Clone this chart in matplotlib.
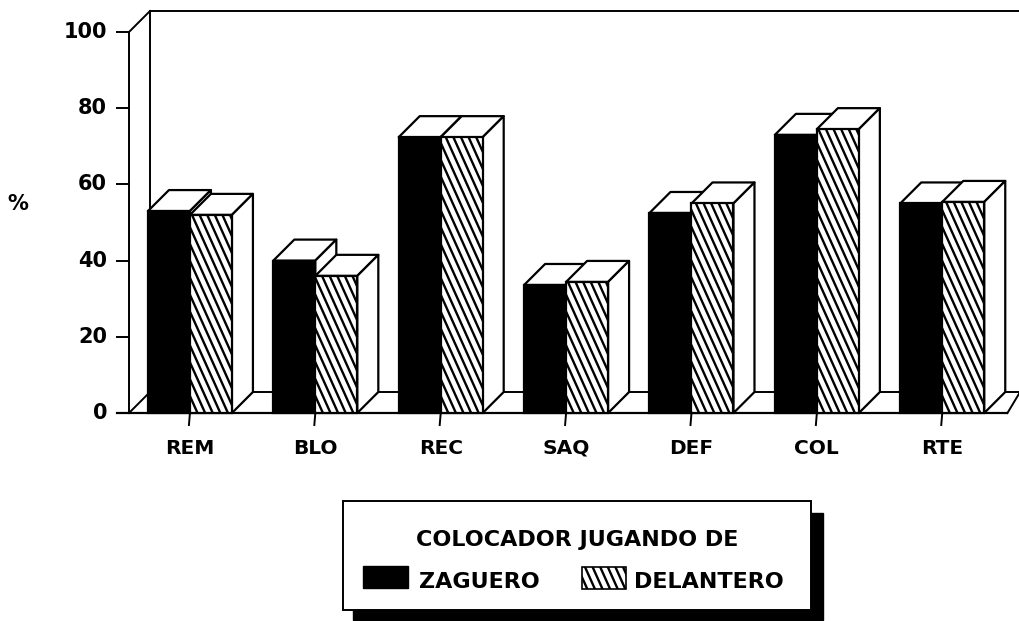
import numpy as np
import matplotlib
matplotlib.use("Agg")
import matplotlib.pyplot as plt
from matplotlib.patches import Polygon, Rectangle

categorias = ["REM", "BLO", "REC", "SAQ", "DEF", "COL", "RTE"]
zaguero = [53, 40, 72.4, 33.6, 52.5, 73, 55]
delantero = [52, 36, 72.4, 34.4, 55, 74.5, 55.4]
y_ticks = [0, 20, 40, 60, 80, 100]

W, H = 1020, 621
FONT = "DejaVu Sans"

fig = plt.figure(figsize=(W / 100, H / 100), dpi=100, facecolor="white")
ax = fig.add_axes([129 / W, (H - 413) / H, (W - 129) / W, 381 / H])
ax.set_xlim(-0.486, 6.62)
ax.set_ylim(0, 100)
ax.axis("off")

px_x = 1 / 125.4        # unidades de x por pixel
px_y = 100 / 381        # unidades de y por pixel
dx = 21 * px_x          # profundidad 3D
dy = 21 * px_y
bar_w = 42 * px_x
lw = 1.6


def linea(xs, ys, **kw):
    ax.plot(xs, ys, color="black", lw=kw.pop("lw", 1.4), clip_on=False,
            solid_capstyle="projecting", **kw)


def rayado(axis, x0, x1, y0, y1, k, paso, zorder):
    # lineas inclinadas recortadas al rectangulo de la barra
    rect = Rectangle((x0, y0), x1 - x0, y1 - y0, transform=axis.transData)
    alto = y1 - y0
    desvio = abs(alto * k)
    for xs in np.arange(x0 - desvio, x1 + desvio, paso):
        l, = axis.plot([xs, xs + alto * k], [y1, y0], color="black", lw=1.7,
                       zorder=zorder, clip_on=True)
        l.set_clip_path(rect)


def barra3d(x0, v, hatched, z):
    x1 = x0 + bar_w
    # cara superior y lateral
    ax.add_patch(Polygon([(x0, v), (x0 + dx, v + dy), (x1 + dx, v + dy), (x1, v)],
                         fc="white", ec="black", lw=lw, zorder=z, clip_on=False,
                         joinstyle="round"))
    ax.add_patch(Polygon([(x1, 0), (x1 + dx, dy), (x1 + dx, v + dy), (x1, v)],
                         fc="white", ec="black", lw=lw, zorder=z, clip_on=False,
                         joinstyle="round"))
    ax.add_patch(Rectangle((x0, 0), bar_w, v, fc="white" if hatched else "black",
                           ec="black", lw=lw, zorder=z, clip_on=False))
    if hatched:
        rayado(ax, x0, x1, 0, v, 0.45 * px_x / px_y, 7.6 * px_x, z + 0.1)


# paredes y suelo
x_left, x_right = ax.get_xlim()
wall = x_left + dx
linea([x_left, x_left], [0, 100])
linea([x_left, wall], [100, 100 + dy])
linea([wall, wall], [dy, 100 + dy])
linea([wall, x_right], [100 + dy, 100 + dy])
linea([x_left, wall], [0, dy])
linea([wall, x_right], [dy, dy])
linea([x_left - 12 * px_x, 6.52], [0, 0], lw=1.6)
linea([6.52, 6.52 + dx * 0.6], [0, dy])

# marcas de los ejes
for t in y_ticks:
    linea([x_left - 12 * px_x, x_left], [t, t])
    ax.text(x_left - 22 * px_x, t, str(t), ha="right", va="center",
            family=FONT, weight="bold", fontsize=15, clip_on=False)

for i, c in enumerate(categorias):
    linea([i, i - 0.008], [0, -12 * px_y])
    ax.text(i, -35 * px_y, c, ha="center", va="center", family=FONT,
            weight="bold", fontsize=14.5, clip_on=False)
    barra3d(i - bar_w, zaguero[i], False, 3 + i)
    barra3d(i, delantero[i], True, 3.5 + i)

fig.text(18 / W, 1 - 204 / H, "%", ha="center", va="center", family=FONT,
         weight="heavy", fontsize=15)

# leyenda en coordenadas de pixel
lg = fig.add_axes([0, 0, 1, 1], zorder=10)
lg.set_xlim(0, W)
lg.set_ylim(H, 0)
lg.axis("off")
lg.patch.set_alpha(0)
lg.add_patch(Rectangle((353, 513), 470, 107, fc="black", ec="black"))
lg.add_patch(Rectangle((343, 501), 468, 109, fc="white", ec="black", lw=1.4))
lg.text(577, 546, "COLOCADOR JUGANDO DE", ha="center", va="baseline", family=FONT,
        weight="bold", fontsize=16)
lg.add_patch(Rectangle((363, 566), 45, 22, fc="black", ec="black"))
lg.text(419, 588, "ZAGUERO", ha="left", va="baseline", family=FONT, weight="bold",
        fontsize=16)
lg.add_patch(Rectangle((582, 567), 44, 22, fc="white", ec="black", lw=1.2))
rayado(lg, 582, 626, 567, 589, -0.45, 7.6, 11)
lg.text(634, 588, "DELANTERO", ha="left", va="baseline", family=FONT, weight="bold",
        fontsize=16)

fig.savefig("out.png", dpi=100)
